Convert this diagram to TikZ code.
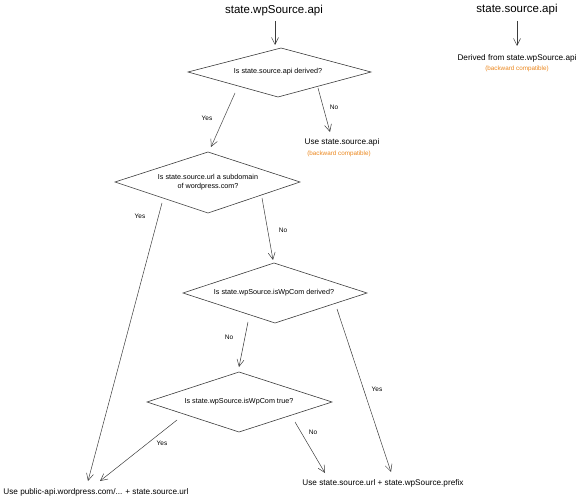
\documentclass[tikz,border=0pt]{standalone}
\usepackage{fontspec}
\setmainfont{Liberation Sans}
\usetikzlibrary{arrows.meta}
\definecolor{linec}{RGB}{60,60,60}
\definecolor{compat}{RGB}{235,135,30}
\tikzset{
  dec/.style={align=center, inner sep=0pt, font=\fontsize{7.2}{9}\selectfont},
  dia/.style={draw=linec, line width=0.6pt},
  flow/.style={draw=linec, line width=0.5pt, -{Straight Barb[length=7pt,width=7pt]}},
  lbl/.style={font=\fontsize{6.5}{8}\selectfont, inner sep=0pt},
  txt/.style={font=\fontsize{8.2}{10}\selectfont, inner sep=0pt},
  ttl/.style={font=\fontsize{11.5}{13}\selectfont, inner sep=0pt},
  cmp/.style={font=\fontsize{6.3}{7}\selectfont, text=compat, inner sep=0pt}
}
\begin{document}
\begin{tikzpicture}[x=1pt,y=-1pt]
\useasboundingbox (0,0) rectangle (582,500);
% titles
\node[ttl] (t1) at (274,11) {state.wpSource.api};
\node[ttl] (t2) at (517,10) {state.source.api};
\node[txt] (der) at (517,58) {Derived from state.wpSource.api};
\node[cmp] (derc) at (517,69) {(backward compatible)};
% diamonds
\node[dec] (d1) at (278,72) {Is state.source.api derived?};
\draw[dia] (d1.center) ++(-90,0) -- ++(93,-24) -- ++(90,24) -- ++(-93,25) -- cycle;
\node[dec] (d2) at (208,182) {Is state.source.url a subdomain\\of wordpress.com?};
\draw[dia] (d2.center) ++(-93,0) -- ++(93,-30) -- ++(92,30) -- ++(-92,31) -- cycle;
\node[dec] (d3) at (274,293) {Is state.wpSource.isWpCom derived?};
\draw[dia] (d3.center) ++(-91,0) -- ++(91,-30) -- ++(93,30) -- ++(-92,30) -- cycle;
\node[dec] (d4) at (239,402) {Is state.wpSource.isWpCom true?};
\draw[dia] (d4.center) ++(-92,0) -- ++(92,-30) -- ++(93,30) -- ++(-93,30) -- cycle;
% outcomes
\node[txt] (use1) at (342,142) {Use state.source.api};
\node[cmp] (use1c) at (339,154) {(backward compatible)};
\node[txt] (useL) at (96,492) {Use public-api.wordpress.com/... + state.source.url};
\node[txt] (useR) at (383,483) {Use state.source.url + state.wpSource.prefix};
% coordinates
\coordinate (a1s) at (275,21);
\coordinate (a1e) at (275,45);
\coordinate (a2s) at (517,21);
\coordinate (a2e) at (517,46);
\coordinate (y1s) at (235,93);
\coordinate (y1e) at (211,147);
\coordinate (n1s) at (318,88);
\coordinate (n1e) at (330,132);
\coordinate (y2s) at (162,203);
\coordinate (y2e) at (88,481);
\coordinate (n2s) at (262,198);
\coordinate (n2e) at (273,260);
\coordinate (n3s) at (248,322);
\coordinate (n3e) at (239,367);
\coordinate (y3s) at (337,309);
\coordinate (y3e) at (391,472);
\coordinate (y4s) at (177,420);
\coordinate (y4e) at (100,481);
\coordinate (n4s) at (295,422);
\coordinate (n4e) at (325,473);
% connectors
\draw[flow] (a1s) -- (a1e);
\draw[flow] (a2s) -- (a2e);
\draw[flow] (y1s) -- (y1e);
\draw[flow] (n1s) -- (n1e);
\draw[flow] (y2s) -- (y2e);
\draw[flow] (n2s) -- (n2e);
\draw[flow] (n3s) -- (n3e);
\draw[flow] (y3s) -- (y3e);
\draw[flow] (y4s) -- (y4e);
\draw[flow] (n4s) -- (n4e);
% labels
\node[lbl] (ly1) at (207,118) {Yes};
\node[lbl] (ln1) at (334,107) {No};
\node[lbl] (ly2) at (140,216) {Yes};
\node[lbl] (ln2) at (283,230) {No};
\node[lbl] (ln3) at (229,337) {No};
\node[lbl] (ly3) at (377,389) {Yes};
\node[lbl] (ly4) at (162,443) {Yes};
\node[lbl] (ln4) at (313,432) {No};
\end{tikzpicture}
\end{document}
